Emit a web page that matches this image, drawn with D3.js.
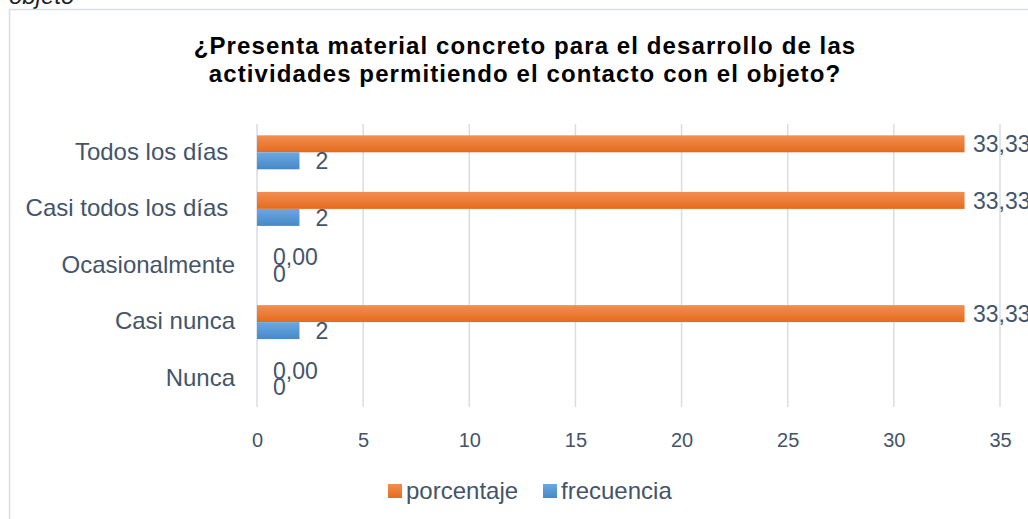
<!DOCTYPE html>
<html>
<head>
<meta charset="utf-8">
<script src="https://cdn.jsdelivr.net/npm/d3@7"></script>
<style>
  body { margin: 0; background: #fff; }
  svg { display: block; }
</style>
</head>
<body>
<script>
// Data
const categories = ["Todos los días ", "Casi todos los días ", "Ocasionalmente", "Casi nunca", "Nunca"];
const porcentaje = [33.33, 33.33, 0, 33.33, 0];
const frecuencia = [2, 2, 0, 2, 0];
const seriesNames = ["porcentaje", "frecuencia"];
const xTicks = [0, 5, 10, 15, 20, 25, 30, 35];

const W = 1028, H = 519;
const textColor = "#44546a";
const font = "Arial, 'Liberation Sans', sans-serif";

const svg = d3.select("body").append("svg")
    .attr("width", W)
    .attr("height", H);

// Gradients for bars
const defs = svg.append("defs");
const grads = [["gOrange", "#f28e52", "#e56b1c"], ["gBlue", "#6aa8e0", "#4788c8"]];
grads.forEach(g => {
    const lg = defs.append("linearGradient")
        .attr("id", g[0]).attr("x1", 0).attr("y1", 0).attr("x2", 0).attr("y2", 1);
    lg.append("stop").attr("offset", "0%").attr("stop-color", g[1]);
    lg.append("stop").attr("offset", "100%").attr("stop-color", g[2]);
});

// Caption text cut off at the top of the page
svg.append("text")
    .attr("x", 9)
    .attr("y", 4)
    .style("font-family", font)
    .style("font-style", "italic")
    .style("font-size", "24px")
    .attr("fill", "#222")
    .text("objeto");

// Chart frame
svg.append("rect")
    .attr("x", 9.5)
    .attr("y", 9.5)
    .attr("width", 1040)
    .attr("height", 530)
    .attr("fill", "#fff")
    .attr("stroke", "#d9dde3")
    .attr("stroke-width", 1.5);

// Title
const title = svg.append("text")
    .attr("text-anchor", "middle")
    .style("font-family", font)
    .style("font-weight", "bold")
    .style("font-size", "24px")
    .style("letter-spacing", "1.1px")
    .attr("fill", "#000");
title.append("tspan").attr("x", 525).attr("y", 54)
    .text("¿Presenta material concreto para el desarrollo de las");
title.append("tspan").attr("x", 525).attr("y", 82)
    .text("actividades permitiendo el contacto con el objeto?");

// Scales
const plot = { left: 257, right: 1000, top: 124, bottom: 407 };

const x = d3.scaleLinear()
    .domain([0, 35])
    .range([plot.left, plot.right]);

const y0 = d3.scaleBand()
    .domain(categories)
    .range([plot.top, plot.bottom])
    .paddingInner(0.4)
    .paddingOuter(0.2);

const y1 = d3.scaleBand()
    .domain(seriesNames)
    .range([0, y0.bandwidth()]);

// Gridlines
svg.append("g")
    .selectAll("line")
    .data(xTicks)
    .enter().append("line")
    .attr("x1", d => x(d))
    .attr("x2", d => x(d))
    .attr("y1", plot.top)
    .attr("y2", plot.bottom)
    .attr("stroke", "#d9dde3")
    .attr("stroke-width", 1.5);

// X axis (labels only)
const xAxis = svg.append("g")
    .attr("transform", "translate(0," + 447 + ")")
    .call(d3.axisBottom(x).tickValues(xTicks).tickSize(0).tickPadding(0).tickFormat(d3.format("d")));
xAxis.select(".domain").remove();
xAxis.selectAll("text")
    .attr("dy", 0)
    .attr("y", 0)
    .attr("fill", textColor)
    .style("font-family", font)
    .style("font-size", "20px");

// Category labels
svg.append("g")
    .selectAll("text")
    .data(categories)
    .enter().append("text")
    .attr("x", 235)
    .attr("y", d => y0(d) + y0.bandwidth() / 2)
    .attr("dy", "0.3em")
    .attr("text-anchor", "end")
    .style("white-space", "pre")
    .style("font-family", font)
    .style("font-size", "24px")
    .attr("fill", textColor)
    .text(d => d);

// Bars
const rows = categories.map((c, i) => ({
    cat: c,
    values: [
        { key: "porcentaje", v: porcentaje[i], label: porcentaje[i].toFixed(2).replace(".", ",") },
        { key: "frecuencia", v: frecuencia[i], label: String(frecuencia[i]) }
    ]
}));

const fills = { porcentaje: "url(#gOrange)", frecuencia: "url(#gBlue)" };

const groups = svg.append("g")
    .selectAll("g")
    .data(rows)
    .enter().append("g")
    .attr("transform", d => "translate(0," + y0(d.cat) + ")");

groups.selectAll("rect")
    .data(d => d.values)
    .enter().append("rect")
    .attr("x", x(0))
    .attr("y", d => y1(d.key))
    .attr("width", d => x(d.v) - x(0))
    .attr("height", y1.bandwidth())
    .attr("fill", d => fills[d.key]);

// Data labels
groups.selectAll("text")
    .data(d => d.values)
    .enter().append("text")
    .attr("x", d => Math.min(x(d.v) + 16, plot.right - 27))
    .attr("y", d => y1(d.key) + y1.bandwidth() / 2)
    .attr("dy", "0.36em")
    .style("font-family", font)
    .style("font-size", "23px")
    .attr("fill", textColor)
    .text(d => d.label);

// Legend
const legendX = [388, 543];
const legend = svg.append("g");
seriesNames.forEach((s, i) => {
    legend.append("rect")
        .attr("x", legendX[i])
        .attr("y", 484)
        .attr("width", 14)
        .attr("height", 14)
        .attr("fill", fills[s]);
    legend.append("text")
        .attr("x", legendX[i] + 18)
        .attr("y", 499)
        .style("font-family", font)
        .style("font-size", "24px")
        .attr("fill", textColor)
        .text(s);
});
</script>
</body>
</html>
